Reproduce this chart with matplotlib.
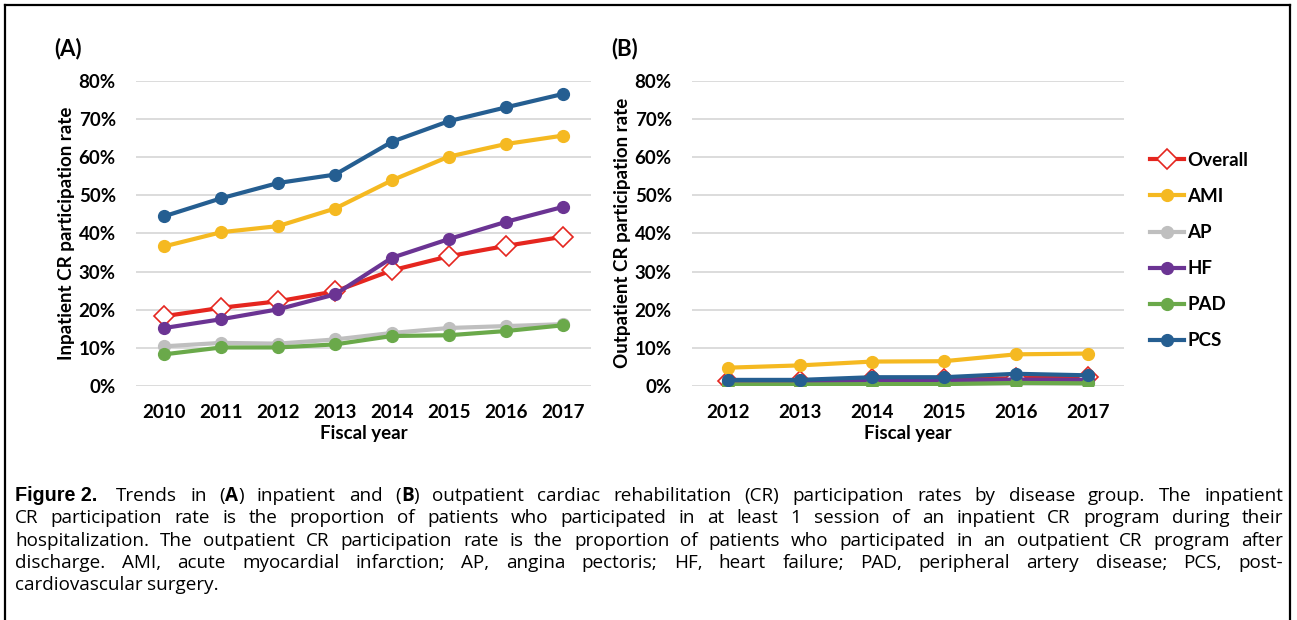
import matplotlib
matplotlib.use("Agg")
import matplotlib.pyplot as plt
from matplotlib.lines import Line2D
from matplotlib.ticker import FuncFormatter
from matplotlib.font_manager import FontProperties

# ---------------- data ----------------
years_a = ["2010", "2011", "2012", "2013", "2014", "2015", "2016", "2017"]
years_b = ["2012", "2013", "2014", "2015", "2016", "2017"]

series_names = ["Overall", "AMI", "AP", "HF", "PAD", "PCS"]

inpatient_overall = [18.3, 20.5, 22.2, 24.8, 30.3, 34.0, 36.7, 39.1]
inpatient_ami = [36.6, 40.3, 41.9, 46.5, 53.9, 60.1, 63.4, 65.6]
inpatient_ap = [10.4, 11.3, 11.1, 12.2, 13.9, 15.2, 15.7, 16.2]
inpatient_hf = [15.2, 17.5, 20.1, 24.0, 33.6, 38.5, 43.0, 46.9]
inpatient_pad = [8.3, 10.1, 10.1, 10.9, 13.1, 13.3, 14.4, 15.9]
inpatient_pcs = [44.5, 49.2, 53.2, 55.4, 64.0, 69.4, 73.0, 76.5]

outpatient_overall = [1.3, 1.3, 1.9, 1.9, 2.0, 2.4]
outpatient_ami = [4.8, 5.4, 6.4, 6.5, 8.3, 8.5]
outpatient_ap = [0.7, 0.7, 0.9, 0.9, 1.1, 1.0]
outpatient_hf = [1.1, 1.1, 1.4, 1.4, 1.7, 1.6]
outpatient_pad = [0.4, 0.4, 0.5, 0.5, 0.8, 0.7]
outpatient_pcs = [1.6, 1.6, 2.3, 2.3, 3.2, 2.8]

colors = {"Overall": "#e5261f", "AMI": "#f5b921", "AP": "#bfbfbf",
          "HF": "#6b3493", "PAD": "#6aa94a", "PCS": "#255e91"}

caption_first = "Trends in (A) inpatient and (B) outpatient cardiac rehabilitation (CR) participation rates by disease group. The inpatient"
caption_lines = [
    "CR participation rate is the proportion of patients who participated in at least 1 session of an inpatient CR program during their",
    "hospitalization. The outpatient CR participation rate is the proportion of patients who participated in an outpatient CR program after",
    "discharge. AMI, acute myocardial infarction; AP, angina pectoris; HF, heart failure; PAD, peripheral artery disease; PCS, post-",
    "cardiovascular surgery.",
]

# ---------------- figure ----------------
W, H = 1297, 620
fig = plt.figure(figsize=(W / 100, H / 100), dpi=100)
FS = 13.5
tick_font = dict(family=["Lato", "DejaVu Sans"], weight="bold", size=FS)
tick_fp = FontProperties(**tick_font)


def px_axes(x0, x1, y0, y1):
    return fig.add_axes([x0 / W, 1 - y1 / H, (x1 - x0) / W, (y1 - y0) / H])


def style(ax, cats, data, ylabel):
    handles = []
    for name, vals in zip(series_names, data):
        if name == "Overall":
            h, = ax.plot(range(len(cats)), [v / 100 for v in vals], color=colors[name], lw=3,
                         marker="D", ms=10, mfc="white", mec=colors[name], mew=1.2, zorder=3)
        else:
            h, = ax.plot(range(len(cats)), [v / 100 for v in vals], color=colors[name], lw=3,
                         marker="o", ms=8.5, mfc=colors[name], mec=colors[name], zorder=3)
        handles.append(h)
    ax.set_xlim(-0.5, len(cats) - 0.5)
    ax.set_ylim(0, 0.8)
    ax.set_yticks([i / 10 for i in range(9)])
    ax.yaxis.set_major_formatter(FuncFormatter(lambda v, p: f"{v*100:.0f}%"))
    ax.set_xticks(range(len(cats)))
    ax.set_xticklabels(cats)
    for lab in ax.get_xticklabels() + ax.get_yticklabels():
        lab.set_fontproperties(tick_fp)
    ax.tick_params(axis="x", length=0, pad=13)
    ax.tick_params(axis="y", length=0, pad=14.5)
    ax.grid(axis="y", color="#d9d9d9", lw=1.3, zorder=0)
    ax.set_axisbelow(True)
    for s in ax.spines.values():
        s.set_visible(False)
    ax.set_xlabel("Fiscal year", labelpad=3, **tick_font)
    ax.set_ylabel(ylabel, labelpad=3, **tick_font)
    return handles


axA = px_axes(136, 591, 80.7, 386)
style(axA, years_a, [inpatient_overall, inpatient_ami, inpatient_ap, inpatient_hf,
                     inpatient_pad, inpatient_pcs], "Inpatient CR participation rate")
axB = px_axes(692, 1124, 80.7, 386)
hb = style(axB, years_b, [outpatient_overall, outpatient_ami, outpatient_ap, outpatient_hf,
                          outpatient_pad, outpatient_pcs], "Outpatient CR participation rate")

fig.text(54 / W, 1 - 49 / H, "(A)", ha="left", va="center", family=["Lato", "DejaVu Sans"],
         weight="bold", size=16)
fig.text(611 / W, 1 - 49 / H, "(B)", ha="left", va="center", family=["Lato", "DejaVu Sans"],
         weight="bold", size=16)

leg = fig.legend(hb, series_names, loc="upper left", bbox_to_anchor=(1133 / W, 1 - 135 / H),
                 frameon=False, handlelength=1.8, handletextpad=0.2, labelspacing=1.02,
                 borderpad=0.4, prop=tick_fp)

# ---------------- border ----------------
lw = 1.6
fig.add_artist(Line2D([5 / W, 5 / W], [0, 1 - 5 / H], transform=fig.transFigure, color="black", lw=lw))
fig.add_artist(Line2D([1290 / W, 1290 / W], [0, 1 - 5 / H], transform=fig.transFigure, color="black", lw=lw))
fig.add_artist(Line2D([5 / W, 1290 / W], [1 - 5 / H, 1 - 5 / H], transform=fig.transFigure, color="black", lw=lw))

# ---------------- caption (justified) ----------------
cap_family = ["Open Sans", "DejaVu Sans"]
cap_size = 13.6
renderer = fig.canvas.get_renderer()
x_left, x_right = 15, 1283
baselines = [501, 523.3, 545.6, 567.9, 590.2]


def measure(s, weight, size):
    t = fig.text(0, 0, s, family=cap_family, size=size, weight=weight)
    w = t.get_window_extent(renderer).width
    t.remove()
    return w


def draw_words(words, x0, x1, y, justify=True):
    widths = [sum(measure(s, wt, cap_size) for s, wt in w) for w in words]
    space = measure("a a", "normal", cap_size) - measure("aa", "normal", cap_size)
    if justify and len(words) > 1:
        gap = max(space * 0.6, (x1 - x0 - sum(widths)) / (len(words) - 1))
    else:
        gap = space
    x = x0
    for w, wd in zip(words, widths):
        xx = x
        for s, wt in w:
            fig.text(xx / W, 1 - y / H, s, family=cap_family, size=cap_size, weight=wt,
                     ha="left", va="baseline")
            xx += measure(s, wt, cap_size)
        x += wd + gap


words1 = []
for wd in caption_first.split(" "):
    if wd in ("(A)", "(B)"):
        words1.append([("(", "normal"), (wd[1], "bold"), (")", "normal")])
    else:
        words1.append([(wd, "normal")])

fig.text(x_left / W, 1 - baselines[0] / H, "Figure 2.", family=["Liberation Sans", "DejaVu Sans"],
         size=cap_size + 0.6, weight="bold", ha="left", va="baseline")
fx = 100 + 16
draw_words(words1, fx, x_right, baselines[0])
for i, line in enumerate(caption_lines):
    words = [[(w, "normal")] for w in line.split(" ")]
    draw_words(words, x_left, x_right, baselines[i + 1], justify=(i < len(caption_lines) - 1))

fig.savefig("out.png", dpi=100)
